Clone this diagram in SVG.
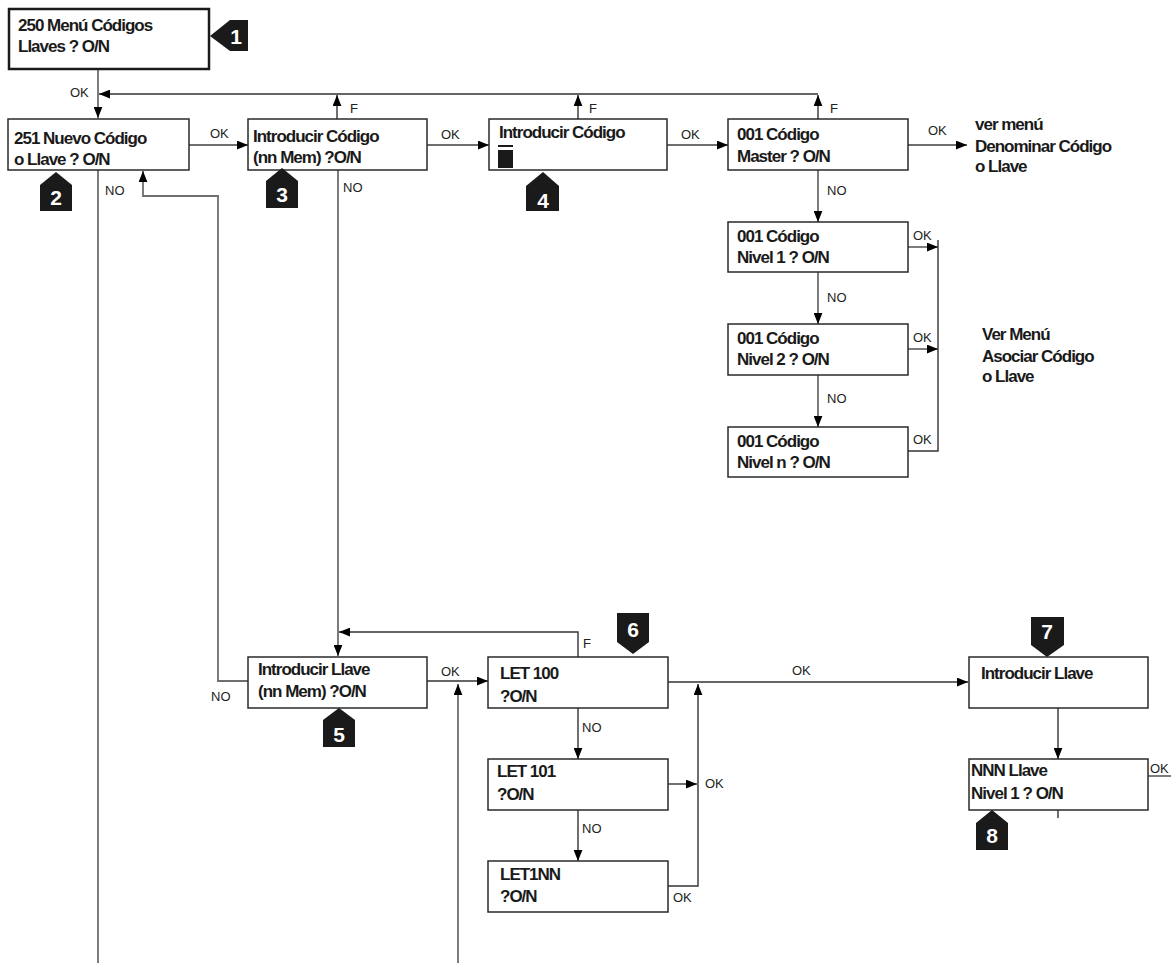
<svg xmlns="http://www.w3.org/2000/svg" width="1171" height="963" viewBox="0 0 1171 963">
<defs>
<style>
.bx{fill:#fff;stroke:#2a2a2a;stroke-width:1.5}
.t{font-family:"Liberation Sans",Arial,sans-serif;font-weight:bold;font-size:17px;letter-spacing:-1px;fill:#1a1a1a}
.l{font-family:"Liberation Sans",Arial,sans-serif;font-size:13px;fill:#222}
.c{fill:none;stroke:#333;stroke-width:1.4}
.g{fill:none;stroke:#6e6e6e;stroke-width:1.8}
.bd{fill:#1a1a1a}
.bn{font-family:"Liberation Sans",Arial,sans-serif;font-weight:bold;font-size:21px;fill:#fff;text-anchor:middle}
</style>
<marker id="a" viewBox="0 0 10 8" refX="10" refY="4" markerWidth="11" markerHeight="9" markerUnits="userSpaceOnUse" orient="auto">
<path d="M0,0 L10,4 L0,8 Z" fill="#000"/>
</marker>
</defs>

<g id="connectors">
<line class="g" x1="98" y1="69" x2="98" y2="118" marker-end="url(#a)"/>
<line class="c" x1="337" y1="119" x2="337" y2="95" marker-end="url(#a)"/>
<line class="c" x1="578" y1="119" x2="578" y2="95" marker-end="url(#a)"/>
<line class="c" x1="818" y1="119" x2="818" y2="95" marker-end="url(#a)"/>
<line class="c" x1="818" y1="94" x2="99" y2="94" marker-end="url(#a)"/>
<line class="g" x1="189" y1="145" x2="248" y2="145" marker-end="url(#a)"/>
<line class="g" x1="427" y1="145" x2="489" y2="145" marker-end="url(#a)"/>
<line class="g" x1="667" y1="145" x2="728" y2="145" marker-end="url(#a)"/>
<line class="g" x1="908" y1="145" x2="967" y2="145" marker-end="url(#a)"/>
<line class="g" x1="818" y1="170" x2="818" y2="222" marker-end="url(#a)"/>
<line class="g" x1="818" y1="272" x2="818" y2="324" marker-end="url(#a)"/>
<line class="g" x1="818" y1="375" x2="818" y2="427" marker-end="url(#a)"/>
<line class="g" x1="908" y1="247" x2="938" y2="247" marker-end="url(#a)"/>
<line class="g" x1="908" y1="349" x2="938" y2="349" marker-end="url(#a)"/>
<path class="c" d="M908,451 H938 V240"/>
<line class="g" x1="98" y1="170" x2="98" y2="963"/>
<path class="g" d="M248,681 H218 V196 H143 V171" marker-end="url(#a)"/>
<line class="g" x1="338" y1="170" x2="338" y2="656" marker-end="url(#a)"/>
<path class="c" d="M578,657 V632 H339" marker-end="url(#a)"/>
<line class="c" x1="427" y1="681" x2="488" y2="681" marker-end="url(#a)"/>
<line class="g" x1="458" y1="963" x2="458" y2="684" marker-end="url(#a)"/>
<line class="c" x1="578" y1="708" x2="578" y2="759" marker-end="url(#a)"/>
<line class="c" x1="578" y1="810" x2="578" y2="861" marker-end="url(#a)"/>
<line class="c" x1="668" y1="784" x2="697" y2="784" marker-end="url(#a)"/>
<path class="c" d="M668,886 H698 V684" marker-end="url(#a)"/>
<line class="c" x1="668" y1="682" x2="968" y2="682" marker-end="url(#a)"/>
<line class="c" x1="1058" y1="708" x2="1058" y2="759" marker-end="url(#a)"/>
<line class="g" x1="1148" y1="776" x2="1171" y2="776"/>
<line class="c" x1="1058" y1="810" x2="1058" y2="818"/>

<text class="l" x="70" y="97">OK</text>
<text class="l" x="210" y="138">OK</text>
<text class="l" x="441" y="139">OK</text>
<text class="l" x="681" y="139">OK</text>
<text class="l" x="928" y="135">OK</text>
<text class="l" x="350" y="113">F</text>
<text class="l" x="589" y="113">F</text>
<text class="l" x="830" y="113">F</text>
<text class="l" x="105" y="195">NO</text>
<text class="l" x="343" y="192">NO</text>
<text class="l" x="827" y="195">NO</text>
<text class="l" x="827" y="302">NO</text>
<text class="l" x="827" y="403">NO</text>
<text class="l" x="913" y="240">OK</text>
<text class="l" x="913" y="342">OK</text>
<text class="l" x="913" y="444">OK</text>
<text class="l" x="211" y="701">NO</text>
<text class="l" x="441" y="676">OK</text>
<text class="l" x="583" y="648">F</text>
<text class="l" x="582" y="732">NO</text>
<text class="l" x="582" y="833">NO</text>
<text class="l" x="705" y="788">OK</text>
<text class="l" x="673" y="902">OK</text>
<text class="l" x="792" y="675">OK</text>
<text class="l" x="1150" y="773">OK</text>
</g>

<g id="n1">
<rect x="9" y="9" width="200" height="60" fill="#fff" stroke="#1a1a1a" stroke-width="2.5"/>
<text class="t" x="18" y="31">250 Menú Códigos</text>
<text class="t" x="18" y="52">Llaves ? O/N</text>
</g>
<g id="b1"><polygon class="bd" points="210,36 230,20 248,20 248,51 230,51"/><text class="bn" x="236" y="44">1</text></g>

<g id="n2">
<rect class="bx" x="8" y="119" width="181" height="51"/>
<text class="t" x="14" y="144">251 Nuevo Código</text>
<text class="t" x="14" y="165">o Llave  ? O/N</text>
</g>
<g id="b2"><polygon class="bd" points="40,185 56,172 72,185 72,211 40,211"/><text class="bn" x="56" y="205">2</text></g>

<g id="n3">
<rect class="bx" x="248" y="119" width="179" height="51"/>
<text class="t" x="253" y="142">Introducir Código</text>
<text class="t" x="253" y="163">(nn Mem) ?O/N</text>
</g>
<g id="b3"><polygon class="bd" points="266,181 282,168 298,181 298,208 266,208"/><text class="bn" x="282" y="202">3</text></g>

<g id="n4">
<rect class="bx" x="489" y="119" width="178" height="51"/>
<text class="t" x="499" y="138">Introducir Código</text>
<rect x="498" y="145" width="15" height="2" fill="#1a1a1a"/>
<rect x="498" y="150" width="15" height="18" fill="#1a1a1a"/>
</g>
<g id="b4"><polygon class="bd" points="526,186 543,172 559,186 559,211 526,211"/><text class="bn" x="543" y="208">4</text></g>

<g id="n5">
<rect class="bx" x="728" y="119" width="180" height="51"/>
<text class="t" x="737" y="140">001 Código</text>
<text class="t" x="737" y="162">Master ? O/N</text>
</g>
<g id="ref1">
<text class="t" x="975" y="130">ver menú</text>
<text class="t" x="975" y="152">Denominar Código</text>
<text class="t" x="975" y="172">o Llave</text>
</g>

<g id="n6">
<rect class="bx" x="728" y="222" width="180" height="50"/>
<text class="t" x="737" y="242">001 Código</text>
<text class="t" x="737" y="263">Nivel 1 ? O/N</text>
</g>
<g id="n7">
<rect class="bx" x="728" y="324" width="180" height="51"/>
<text class="t" x="737" y="344">001 Código</text>
<text class="t" x="737" y="365">Nivel 2 ? O/N</text>
</g>
<g id="n8">
<rect class="bx" x="728" y="427" width="180" height="50"/>
<text class="t" x="737" y="447">001 Código</text>
<text class="t" x="737" y="468">Nivel n ? O/N</text>
</g>
<g id="ref2">
<text class="t" x="982" y="340">Ver Menú</text>
<text class="t" x="982" y="362">Asociar Código</text>
<text class="t" x="982" y="382">o Llave</text>
</g>

<g id="n9">
<rect class="bx" x="248" y="657" width="179" height="51"/>
<text class="t" x="258" y="675">Introducir Llave</text>
<text class="t" x="258" y="697">(nn Mem)  ?O/N</text>
</g>
<g id="b5"><polygon class="bd" points="323,720 339,708 355,720 355,747 323,747"/><text class="bn" x="339" y="742">5</text></g>

<g id="n10">
<rect class="bx" x="488" y="657" width="180" height="51"/>
<text class="t" x="500" y="679">LET 100</text>
<text class="t" x="500" y="702">?O/N</text>
</g>
<g id="b6"><polygon class="bd" points="617,613 649,613 649,642 633,654 617,642"/><text class="bn" x="633" y="637">6</text></g>

<g id="n11">
<rect class="bx" x="488" y="759" width="180" height="51"/>
<text class="t" x="497" y="777">LET 101</text>
<text class="t" x="497" y="800">?O/N</text>
</g>
<g id="n12">
<rect class="bx" x="488" y="861" width="180" height="51"/>
<text class="t" x="500" y="880">LET1NN</text>
<text class="t" x="500" y="902">?O/N</text>
</g>

<g id="n13">
<rect class="bx" x="969" y="657" width="179" height="51"/>
<text class="t" x="981" y="679">Introducir Llave</text>
</g>
<g id="b7"><polygon class="bd" points="1031,617 1064,617 1064,645 1047,657 1031,645"/><text class="bn" x="1047" y="639">7</text></g>

<g id="n14">
<rect class="bx" x="969" y="759" width="179" height="51"/>
<text class="t" x="971" y="776">NNN Llave</text>
<text class="t" x="971" y="799">Nivel 1 ? O/N</text>
</g>
<g id="b8"><polygon class="bd" points="976,823 992,810 1008,823 1008,850 976,850"/><text class="bn" x="992" y="843">8</text></g>
</svg>
